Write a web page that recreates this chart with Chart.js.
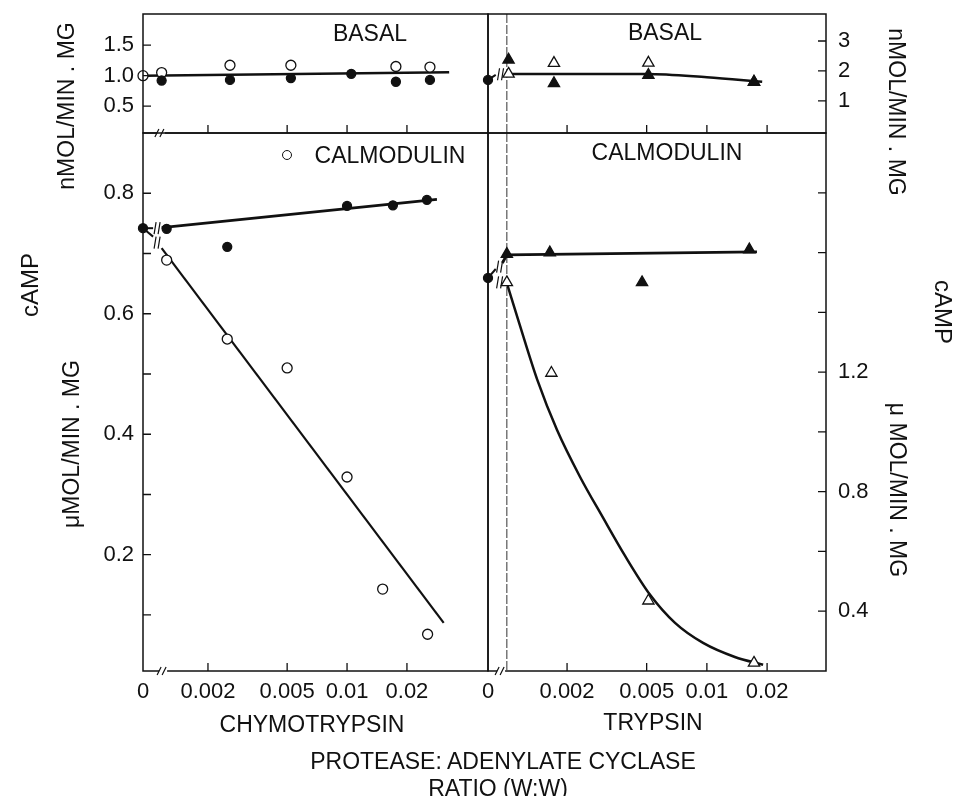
<!DOCTYPE html>
<html>
<head>
<meta charset="utf-8">
<script src="https://cdn.jsdelivr.net/npm/chart.js@4.4.0/dist/chart.umd.min.js"></script>
<style>
html,body{margin:0;padding:0;background:#fff;}
#wrap{position:relative;width:956px;height:796px;overflow:hidden;font-family:"Liberation Sans",Arial,Helvetica,sans-serif;color:#111;}
canvas{position:absolute;left:0;top:0;}
.t{position:absolute;white-space:nowrap;font-size:23px;line-height:1;transform:translate(-50%,-50%);}
.rl{transform:translate(-50%,-50%) rotate(-90deg);}
.rr{transform:translate(-50%,-50%) rotate(90deg);}
.legc{position:absolute;left:282px;top:150px;width:8px;height:8px;border:1.3px solid #111;border-radius:50%;background:#fff;}
</style>
</head>
<body>
<div id="wrap">
  <canvas id="cTL" width="956" height="796"></canvas>
  <canvas id="cBL" width="956" height="796"></canvas>
  <canvas id="cTR" width="956" height="796"></canvas>
  <canvas id="cBR" width="956" height="796"></canvas>

  <div class="t rl" style="left:30px;top:285px;font-size:24px;">cAMP</div>
  <div class="t rl" style="left:66px;top:106px;">nMOL/MIN . MG</div>
  <div class="t rl" style="left:71px;top:444px;">μMOL/MIN . MG</div>
  <div class="t rr" style="left:896px;top:112px;">nMOL/MIN . MG</div>
  <div class="t rr" style="left:943px;top:312px;font-size:24px;">cAMP</div>
  <div class="t rr" style="left:897px;top:490px;">μ MOL/MIN . MG</div>

  <div class="t" style="left:370px;top:33px;">BASAL</div>
  <div class="t" style="left:665px;top:32px;">BASAL</div>
  <div class="legc"></div>
  <div class="t" style="left:390px;top:155px;">CALMODULIN</div>
  <div class="t" style="left:667px;top:152px;">CALMODULIN</div>

  <div class="t" style="left:312px;top:724px;">CHYMOTRYPSIN</div>
  <div class="t" style="left:653px;top:722px;">TRYPSIN</div>
  <div class="t" style="left:503px;top:761px;">PROTEASE: ADENYLATE CYCLASE</div>
  <div class="t" style="left:498px;top:788px;">RATIO (W:W)</div>
</div>
<script>
// ---------------- DATA ----------------
// x = protease : adenylate cyclase ratio (w:w); 0 = no protease
const X_TICK_VALUES = [0, 0.002, 0.005, 0.01, 0.02];
const X_TICK_LABELS = ['0', '0.002', '0.005', '0.01', '0.02'];

// Chymotrypsin, basal (nmol/min/mg)
const CHY_BASAL_OPEN_X = [0, 0.00117, 0.00258, 0.00522, 0.0176, 0.0261];
const CHY_BASAL_OPEN_Y = [1.00, 1.05, 1.17, 1.17, 1.15, 1.14];
const CHY_BASAL_FILL_X = [0.00117, 0.00258, 0.00522, 0.0105, 0.0176, 0.0261];
const CHY_BASAL_FILL_Y = [0.92, 0.93, 0.96, 1.03, 0.90, 0.93];
const CHY_BASAL_FIT_X = [0, 0.0326];
const CHY_BASAL_FIT_Y = [1.00, 1.054];
const CHY_BASAL_Y_TICKS = [0.5, 1.0, 1.5];
const CHY_BASAL_Y_LABELS = ['0.5', '1.0', '1.5'];

// Chymotrypsin, calmodulin (µmol/min/mg)
const CHY_CAM_FILL_X = [0, 0.00124, 0.0025, 0.01, 0.017, 0.0252];
const CHY_CAM_FILL_Y = [0.742, 0.741, 0.711, 0.779, 0.780, 0.789];
const CHY_CAM_OPEN_X = [0.00124, 0.0025, 0.005, 0.01, 0.0151, 0.0254];
const CHY_CAM_OPEN_Y = [0.689, 0.558, 0.510, 0.329, 0.143, 0.068];
const CHY_CAM_FILL_ZERO_X = [0, 0.00106];
const CHY_CAM_FILL_ZERO_Y = [0.742, 0.742];
const CHY_CAM_FILL_FIT_X = [0.00117, 0.0283];
const CHY_CAM_FILL_FIT_Y = [0.743, 0.790];
const CHY_CAM_OPEN_ZERO_X = [0, 0.00106];
const CHY_CAM_OPEN_ZERO_Y = [0.742, 0.728];
const CHY_CAM_OPEN_FIT_X = [0.00117, 0.0306];
const CHY_CAM_OPEN_FIT_Y = [0.709, 0.087];
const CHY_CAM_Y_TICKS = [0.1, 0.2, 0.3, 0.4, 0.5, 0.6, 0.7, 0.8];
const CHY_CAM_Y_LABELS = ['', '0.2', '', '0.4', '', '0.6', '', '0.8'];

// Trypsin, basal (nmol/min/mg)
const TRY_BASAL_ZERO_X = [0];
const TRY_BASAL_ZERO_Y = [1.70];
const TRY_BASAL_OPEN_X = [0.00102, 0.00172, 0.0051, 0.0172];
const TRY_BASAL_OPEN_Y = [1.90, 2.26, 2.27, 1.64];
const TRY_BASAL_FILL_X = [0.00102, 0.00172, 0.0051, 0.0172];
const TRY_BASAL_FILL_Y = [2.37, 1.59, 1.86, 1.63];
const TRY_BASAL_ZSEG_X = [0, 0.00088];
const TRY_BASAL_ZSEG_Y = [1.70, 1.87];
const TRY_BASAL_CURVE_X = [0.001, 0.005, 0.01, 0.0189];
const TRY_BASAL_CURVE_Y = [1.90, 1.90, 1.79, 1.64];
const TRY_BASAL_Y_TICKS = [1, 2, 3];
const TRY_BASAL_Y_LABELS = ['1', '2', '3'];

// Trypsin, calmodulin (µmol/min/mg)
const TRY_CAM_ZERO_X = [0];
const TRY_CAM_ZERO_Y = [1.515];
const TRY_CAM_FILL_X = [0.001, 0.00164, 0.00474, 0.0163];
const TRY_CAM_FILL_Y = [1.595, 1.60, 1.50, 1.61];
const TRY_CAM_OPEN_X = [0.001, 0.00167, 0.0051, 0.0172];
const TRY_CAM_OPEN_Y = [1.50, 1.197, 0.435, 0.227];
const TRY_CAM_FILL_ZSEG_X = [0, 0.00088];
const TRY_CAM_FILL_ZSEG_Y = [1.515, 1.545];
const TRY_CAM_FILL_FIT_X = [0.00095, 0.001, 0.0178];
const TRY_CAM_FILL_FIT_Y = [1.565, 1.592, 1.602];
const TRY_CAM_OPEN_CURVE_X = [0.001, 0.00116, 0.00142, 0.00178, 0.00232, 0.00303, 0.0039, 0.0052, 0.00693, 0.00957, 0.0138, 0.0191];
const TRY_CAM_OPEN_CURVE_Y = [1.498, 1.358, 1.174, 1.007, 0.850, 0.712, 0.585, 0.455, 0.361, 0.294, 0.247, 0.221];
const TRY_CAM_Y_TICKS = [0.4, 0.6, 0.8, 1.0, 1.2, 1.4, 1.6, 1.8];
const TRY_CAM_Y_LABELS = ['0.4', '', '0.8', '', '1.2', '', '', ''];

// ---------------- SETUP ----------------
Chart.defaults.font.family = "'Liberation Sans', Arial, Helvetica, sans-serif";
Chart.defaults.font.size = 22;
Chart.defaults.color = '#111';

// log scale that places a ratio of 0 on the axis origin (broken axis)
const LogBase = Chart.registry.getScale('logarithmic');
class ZeroLogScale extends LogBase {
  parse(raw, index) {
    if (raw === 0) return 0;
    return super.parse(raw, index);
  }
}
ZeroLogScale.id = 'zerolog';
Chart.register(ZeroLogScale);

const INK = '#111';
const pts = (xs, ys) => xs.map((x, i) => ({x: x, y: ys[i]}));
const mark = (xs, ys, style, filled, r) => ({
  data: pts(xs, ys), showLine: false, pointStyle: style, pointRadius: r, pointHoverRadius: r,
  pointBackgroundColor: filled ? INK : '#fff', pointBorderColor: INK, pointBorderWidth: 1.3, clip: false
});
const line = (xs, ys, curve, w) => ({
  data: pts(xs, ys), showLine: true, pointRadius: 0, pointHoverRadius: 0, borderColor: INK,
  borderWidth: w || 2.5, tension: curve ? 0.4 : 0, cubicInterpolationMode: curve ? 'monotone' : 'default',
  fill: false, clip: false
});

const decorPlugin = {
  id: 'decor',
  beforeDatasetsDraw(chart, args, opts) {
    const {ctx, chartArea: a} = chart;
    if (opts.guideX != null) {
      const gx = chart.scales.x.getPixelForValue(opts.guideX);
      ctx.save();
      ctx.strokeStyle = '#333'; ctx.lineWidth = 1; ctx.setLineDash([9, 2]);
      ctx.beginPath(); ctx.moveTo(gx, a.top); ctx.lineTo(gx, a.bottom); ctx.stroke();
      ctx.restore();
    }
  },
  afterDraw(chart, args, opts) {
    const {ctx, chartArea: a} = chart;
    const xs = chart.scales.x, ys = chart.scales.y;
    ctx.save();
    ctx.strokeStyle = INK; ctx.lineWidth = 1.5;
    ctx.strokeRect(a.left, a.top, a.right - a.left, a.bottom - a.top);
    ctx.lineWidth = 1.3;
    ctx.beginPath();
    xs.ticks.forEach(t => {
      if (t.value > 0) {
        const px = xs.getPixelForValue(t.value);
        ctx.moveTo(px, a.bottom); ctx.lineTo(px, a.bottom - 8);
      }
    });
    ys.ticks.forEach(t => {
      const py = ys.getPixelForValue(t.value);
      if (opts.ySide === 'right') { ctx.moveTo(a.right, py); ctx.lineTo(a.right - 8, py); }
      else { ctx.moveTo(a.left, py); ctx.lineTo(a.left + 8, py); }
    });
    ctx.stroke();
    if (opts.breakX != null) {
      const bx = xs.getPixelForValue(opts.breakX), by = a.bottom;
      ctx.fillStyle = '#fff';
      ctx.fillRect(bx - 4, by - 2, 8, 4);
      ctx.lineWidth = 1.2;
      ctx.beginPath();
      ctx.moveTo(bx - 6, by + 4); ctx.lineTo(bx - 2, by - 4);
      ctx.moveTo(bx - 1, by + 4); ctx.lineTo(bx + 3, by - 4);
      ctx.stroke();
    }
    (opts.lineBreaks || []).forEach(b => {
      const bx = xs.getPixelForValue(b.x), by = ys.getPixelForValue(b.y);
      ctx.lineWidth = 1.2;
      ctx.beginPath();
      ctx.moveTo(bx - 3, by + 6); ctx.lineTo(bx - 1, by - 6);
      ctx.moveTo(bx + 1, by + 6); ctx.lineTo(bx + 3, by - 6);
      ctx.stroke();
    });
    ctx.restore();
  }
};

const AX_W = 70;   // width reserved for y-axis labels
const AX_H = 40;   // height reserved for x-axis labels

function makeChart(id, area, xr, yCfg, datasets, decor) {
  const right = yCfg.side === 'right';
  const xH = xr.labels ? AX_H : 0;
  new Chart(document.getElementById(id), {
    type: 'line',
    data: {datasets: datasets},
    plugins: [decorPlugin],
    options: {
      responsive: false, animation: false, events: [],
      layout: {padding: {
        left: right ? area.l : area.l - AX_W,
        right: right ? 956 - area.r - AX_W : 956 - area.r,
        top: area.t,
        bottom: 796 - area.b - xH
      }},
      plugins: {legend: {display: false}, tooltip: {enabled: false}, decor: decor},
      scales: {
        x: {
          type: 'zerolog', min: xr.min, max: xr.max, bounds: 'data', position: 'bottom',
          grid: {display: false, drawTicks: false}, border: {display: false},
          afterBuildTicks: s => { s.ticks = X_TICK_VALUES.map(v => ({value: v})); },
          afterFit: s => { s.height = xH; s.paddingLeft = 0; s.paddingRight = 0; s.paddingTop = 0; s.paddingBottom = 0; },
          ticks: {display: xr.labels, autoSkip: false, maxRotation: 0, minRotation: 0, padding: 8,
                  callback: (v, i) => X_TICK_LABELS[i]}
        },
        y: {
          type: 'linear', min: yCfg.min, max: yCfg.max, bounds: 'data', position: yCfg.side,
          grid: {display: false, drawTicks: false}, border: {display: false},
          afterBuildTicks: s => { s.ticks = yCfg.ticks.map(v => ({value: v})); },
          afterFit: s => { s.width = AX_W; s.paddingLeft = 0; s.paddingRight = 0; s.paddingTop = 0; s.paddingBottom = 0; },
          ticks: {autoSkip: false, padding: right ? 12 : 9,
                  callback: (v, i) => yCfg.labels[i]}
        }
      }
    }
  });
}

const LEFT_X = {min: 0.000943, max: 0.0511};
const RIGHT_X = {min: 0.000805, max: 0.0394};

// Top-left: chymotrypsin basal
makeChart('cTL', {l: 143, r: 488, t: 14, b: 133}, Object.assign({labels: false}, LEFT_X),
  {min: 0.06, max: 2.01, side: 'left', ticks: CHY_BASAL_Y_TICKS, labels: CHY_BASAL_Y_LABELS},
  [
    mark(CHY_BASAL_FILL_X, CHY_BASAL_FILL_Y, 'circle', true, 4.5),
    mark(CHY_BASAL_OPEN_X, CHY_BASAL_OPEN_Y, 'circle', false, 5),
    line(CHY_BASAL_FIT_X, CHY_BASAL_FIT_Y, false, 2.5)
  ],
  {ySide: 'left', breakX: 0.00116});

// Bottom-left: chymotrypsin + calmodulin
makeChart('cBL', {l: 143, r: 488, t: 133, b: 671}, Object.assign({labels: true}, LEFT_X),
  {min: 0.007, max: 0.9, side: 'left', ticks: CHY_CAM_Y_TICKS, labels: CHY_CAM_Y_LABELS},
  [
    mark(CHY_CAM_FILL_X, CHY_CAM_FILL_Y, 'circle', true, 4.5),
    mark(CHY_CAM_OPEN_X, CHY_CAM_OPEN_Y, 'circle', false, 5),
    line(CHY_CAM_FILL_ZERO_X, CHY_CAM_FILL_ZERO_Y, false, 2),
    line(CHY_CAM_OPEN_ZERO_X, CHY_CAM_OPEN_ZERO_Y, false, 2),
    line(CHY_CAM_FILL_FIT_X, CHY_CAM_FILL_FIT_Y, false, 2.8),
    line(CHY_CAM_OPEN_FIT_X, CHY_CAM_OPEN_FIT_Y, false, 2.2)
  ],
  {ySide: 'left', breakX: 0.00119,
   lineBreaks: [{x: 0.00111, y: 0.742}, {x: 0.00111, y: 0.718}]});

// Top-right: trypsin basal
makeChart('cTR', {l: 488, r: 826, t: 14, b: 133}, Object.assign({labels: false}, RIGHT_X),
  {min: -0.07, max: 3.9, side: 'right', ticks: TRY_BASAL_Y_TICKS, labels: TRY_BASAL_Y_LABELS},
  [
    mark(TRY_BASAL_ZERO_X, TRY_BASAL_ZERO_Y, 'circle', true, 4.5),
    mark(TRY_BASAL_FILL_X, TRY_BASAL_FILL_Y, 'triangle', true, 6.5),
    mark(TRY_BASAL_OPEN_X, TRY_BASAL_OPEN_Y, 'triangle', false, 6.5),
    line(TRY_BASAL_ZSEG_X, TRY_BASAL_ZSEG_Y, false, 2),
    line(TRY_BASAL_CURVE_X, TRY_BASAL_CURVE_Y, true, 2.5)
  ],
  {ySide: 'right', guideX: 0.001, lineBreaks: [{x: 0.00093, y: 1.89}]});

// Bottom-right: trypsin + calmodulin
makeChart('cBR', {l: 488, r: 826, t: 133, b: 671}, Object.assign({labels: true}, RIGHT_X),
  {min: 0.2, max: 2.0, side: 'right', ticks: TRY_CAM_Y_TICKS, labels: TRY_CAM_Y_LABELS},
  [
    mark(TRY_CAM_ZERO_X, TRY_CAM_ZERO_Y, 'circle', true, 4.5),
    mark(TRY_CAM_FILL_X, TRY_CAM_FILL_Y, 'triangle', true, 6.5),
    mark(TRY_CAM_OPEN_X, TRY_CAM_OPEN_Y, 'triangle', false, 6.5),
    line(TRY_CAM_FILL_ZSEG_X, TRY_CAM_FILL_ZSEG_Y, false, 2),
    line(TRY_CAM_FILL_FIT_X, TRY_CAM_FILL_FIT_Y, false, 2.8),
    line(TRY_CAM_OPEN_CURVE_X, TRY_CAM_OPEN_CURVE_Y, true, 2.5)
  ],
  {ySide: 'right', guideX: 0.001, breakX: 0.000936,
   lineBreaks: [{x: 0.00092, y: 1.553}, {x: 0.00092, y: 1.50}]});
</script>
</body>
</html>
